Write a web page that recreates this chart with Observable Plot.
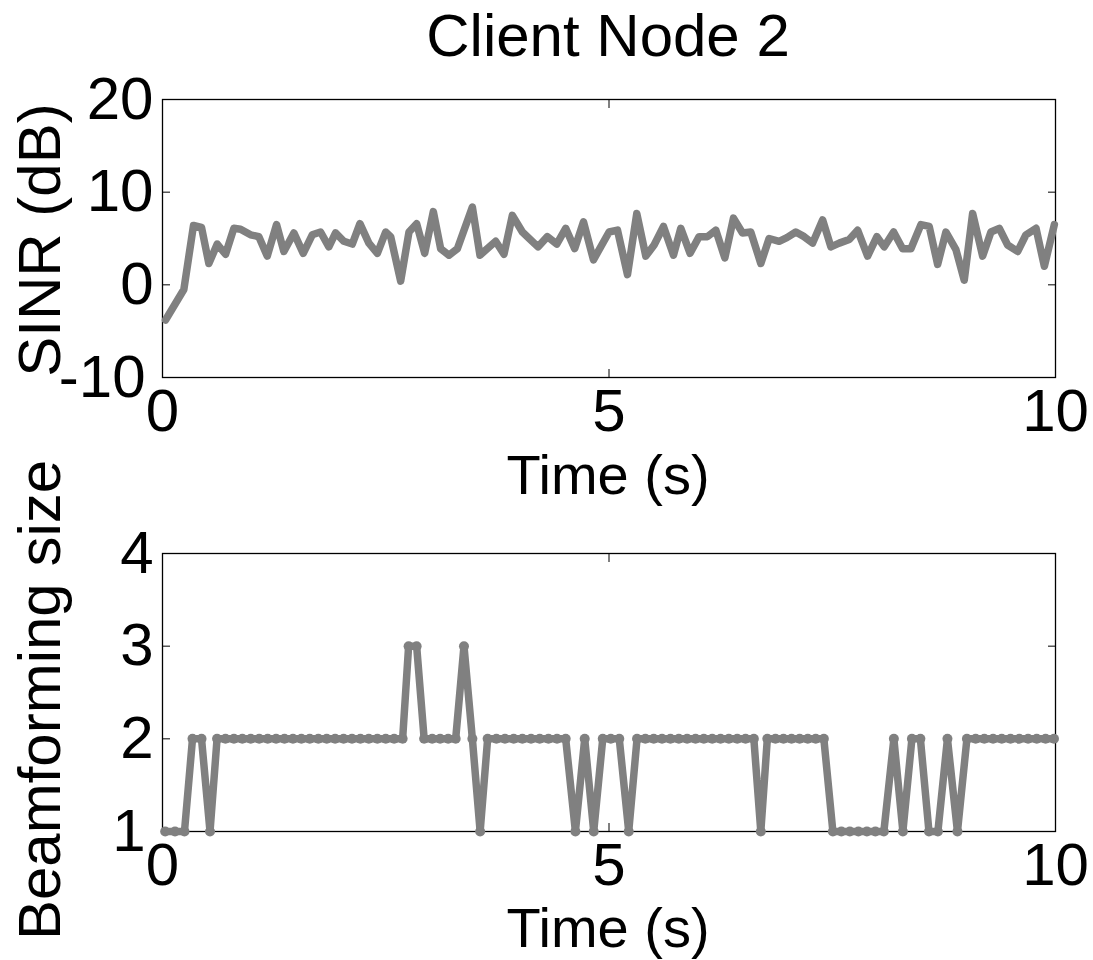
<!DOCTYPE html>
<html><head><meta charset="utf-8">
<script src="https://cdn.jsdelivr.net/npm/d3@7"></script>
<script src="https://cdn.jsdelivr.net/npm/@observablehq/plot@0.6"></script>
<style>
body{margin:0;background:#fff;}
#root{position:relative;width:1093px;height:960px;overflow:hidden;font-family:"Liberation Sans",Arial,sans-serif;color:#000;background:#fff;}
.lbl{position:absolute;font-size:60px;line-height:0.8;white-space:nowrap;}
.xl{font-size:56px;}
#root svg{position:absolute;left:0;}
</style></head><body><div id="root"></div>
<script>
const titleText = "Client Node 2";
const xLabel = "Time (s)";
const sinrLabel = "SINR (dB)";
const bfLabel = "Beamforming size";
const xTicks = [0, 5, 10];
const sinrTicks = [-10, 0, 10, 20];
const bfTicks = [1, 2, 3, 4];

const sinrTime = [0.034,0.239,0.347,0.437,0.519,0.613,0.706,0.799,0.874,0.986,
1.079,1.173,1.277,1.359,1.471,1.576,1.677,1.770,1.863,1.938,
2.031,2.125,2.211,2.311,2.406,2.499,2.555,2.667,2.760,2.846,
2.936,3.033,3.115,3.208,3.302,3.470,3.555,3.731,3.824,3.918,
4.030,4.118,4.205,4.310,4.415,4.515,4.616,4.714,4.826,5.001,
5.095,5.207,5.311,5.412,5.505,5.610,5.722,5.804,5.908,6.009,
6.103,6.196,6.297,6.394,6.495,6.588,6.700,6.793,6.905,6.992,
7.092,7.185,7.280,7.392,7.485,7.578,7.690,7.784,7.896,8.000,
8.082,8.187,8.288,8.381,8.493,8.586,8.680,8.773,8.885,8.978,
9.072,9.184,9.277,9.370,9.464,9.576,9.669,9.782,9.875,9.987];
const sinrDb = [-3.8,-0.5,6.4,6.2,2.3,4.4,3.3,6.1,6.0,5.4,
5.2,3.1,6.5,3.6,5.6,3.4,5.4,5.7,4.1,5.6,
4.7,4.4,6.6,4.5,3.4,5.7,5.2,0.4,5.7,6.6,
3.4,7.9,3.9,3.2,3.9,8.4,3.2,4.7,3.3,7.5,
5.7,4.9,4.1,5.2,4.4,6.1,3.9,6.8,2.7,5.7,
5.9,1.1,7.7,3.1,4.3,6.3,3.2,6.1,3.4,5.2,
5.2,5.9,2.9,7.2,5.6,5.7,2.3,5.0,4.7,5.1,
5.7,5.2,4.5,7.0,4.1,4.5,4.9,5.9,3.1,5.2,
4.1,5.7,3.9,3.9,6.5,6.3,2.2,5.7,3.8,0.5,
7.7,3.1,5.7,6.1,4.3,3.6,5.4,6.1,2.0,6.5];

const bfTime = [0.030,0.140,0.246,0.336,0.437,0.532,0.611,0.705,0.800,0.894,
0.988,1.083,1.178,1.272,1.366,1.461,1.555,1.649,1.745,1.839,
1.933,2.028,2.122,2.216,2.310,2.406,2.500,2.594,2.689,2.756,
2.846,2.930,3.020,3.109,3.199,3.283,3.376,3.470,3.557,3.641,
3.739,3.835,3.933,4.030,4.127,4.224,4.322,4.418,4.515,4.624,
4.728,4.829,4.930,5.020,5.115,5.221,5.314,5.407,5.501,5.594,
5.688,5.782,5.875,5.969,6.062,6.156,6.249,6.342,6.436,6.529,
6.622,6.700,6.773,6.864,6.954,7.044,7.135,7.226,7.315,7.406,
7.507,7.602,7.697,7.793,7.888,7.983,8.078,8.190,8.291,8.392,
8.487,8.583,8.683,8.790,8.902,9.008,9.106,9.203,9.301,9.398,
9.496,9.594,9.693,9.790,9.889,9.983];
const bfSize = [1,1,1,2,2,1,2,2,2,2,
2,2,2,2,2,2,2,2,2,2,
2,2,2,2,2,2,2,2,2,3,
3,2,2,2,2,2,3,2,1,2,
2,2,2,2,2,2,2,2,2,1,
2,1,2,2,2,1,2,2,2,2,
2,2,2,2,2,2,2,2,2,2,
2,1,2,2,2,2,2,2,2,2,
1,1,1,1,1,1,1,2,1,2,
2,1,1,2,1,2,2,2,2,2,
2,2,2,2,2,2];

const sinrData = sinrTime.map((t, i) => ({t, v: sinrDb[i]}));
const bfData = bfTime.map((t, i) => ({t, v: bfSize[i]}));

const gray = "#808080";
const font = '"Liberation Sans", Arial, sans-serif';
const style = {fontFamily: font, fontSize: "60px", color: "black", background: "transparent", overflow: "visible"};
const fmt = d => String(d);

function axes(yTicks) {
  const lowest = yTicks.slice(0, 1);
  const rest = yTicks.slice(1);
  return [
    Plot.frame({stroke: "black", strokeWidth: 1.3}),
    Plot.axisX(xTicks, {anchor: "bottom", tickSize: 0, tickPadding: 11, tickFormat: fmt, label: null}),
    Plot.axisX(xTicks, {anchor: "bottom", tickSize: -8, tickFormat: () => "", label: null}),
    Plot.axisX(xTicks, {anchor: "top", tickSize: -8, tickFormat: () => "", label: null}),
    Plot.axisY(rest, {anchor: "left", tickSize: 0, tickPadding: 9, tickFormat: fmt, label: null}),
    Plot.axisY(lowest, {anchor: "left", tickSize: 0, tickPadding: 17, tickFormat: fmt, label: null}),
    Plot.axisY(yTicks, {anchor: "left", tickSize: -8, tickFormat: () => "", label: null}),
    Plot.axisY(yTicks, {anchor: "right", tickSize: -8, tickFormat: () => "", label: null})
  ];
}

const top1 = Plot.plot({
  width: 1093, height: 500,
  marginLeft: 162, marginRight: 38, marginTop: 99, marginBottom: 123,
  x: {domain: [0, 10]}, y: {domain: [-10, 20]},
  style,
  marks: [
    ...axes(sinrTicks),
    Plot.line(sinrData, {x: "t", y: "v", stroke: gray, strokeWidth: 7.5, strokeLinejoin: "round"})
  ]
});
top1.style.top = "0px";

const bot = Plot.plot({
  width: 1093, height: 460,
  marginLeft: 162, marginRight: 38, marginTop: 53, marginBottom: 129,
  x: {domain: [0, 10]}, y: {domain: [1, 4]},
  style,
  marks: [
    ...axes(bfTicks),
    Plot.line(bfData, {x: "t", y: "v", stroke: gray, strokeWidth: 7.5, strokeLinejoin: "round"}),
    Plot.dot(bfData, {x: "t", y: "v", r: 5, fill: gray, stroke: "none"})
  ]
});
bot.style.top = "500px";

const root = document.getElementById("root");
root.appendChild(top1);
root.appendChild(bot);

function label(text, left, top, rotate, cls) {
  const d = document.createElement("div");
  d.className = "lbl" + (cls ? " " + cls : "");
  d.textContent = text;
  d.style.left = left + "px";
  d.style.top = top + "px";
  d.style.transform = rotate ? "translate(-50%,-50%) rotate(-90deg)" : "translateX(-50%)";
  root.appendChild(d);
}
// 60px, line-height 0.8: div top = baseline - 44.8 ; 56px: baseline - 41.8
label(titleText, 608, 57 - 44.8, false);
label(xLabel, 608, 495 - 41.8, false, "xl");
label(xLabel, 608, 947.5 - 41.8, false, "xl");
label(sinrLabel, 40, 240, true);
label(bfLabel, 40, 700, true);
</script></body></html>
